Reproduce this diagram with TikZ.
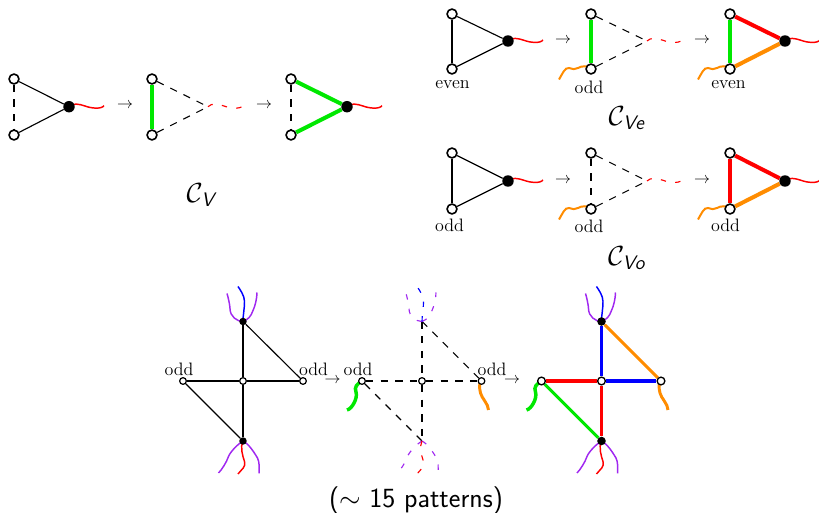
\documentclass[tikz,border=0pt]{standalone}
\usepackage{amsmath}
\usetikzlibrary{backgrounds}
\definecolor{cgreen}{RGB}{0,232,0}
\definecolor{corange}{RGB}{255,140,0}
\definecolor{cpurple}{RGB}{160,40,240}
\definecolor{cblue}{RGB}{0,0,255}
\definecolor{cred}{RGB}{255,0,0}
\tikzset{
  wnode/.style={circle,draw=black,fill=white,line width=1.2pt,inner sep=0pt,minimum size=7.4pt},
  bnode/.style={circle,fill=black,inner sep=0pt,minimum size=8.6pt},
  wsmall/.style={circle,draw=black,fill=white,line width=.9pt,inner sep=0pt,minimum size=5pt},
  wmid/.style={circle,draw=black,fill=white,line width=1pt,inner sep=0pt,minimum size=5.8pt},
  bsmall/.style={circle,fill=black,inner sep=0pt,minimum size=5.6pt},
  ghost/.style={inner sep=0pt,minimum size=0pt},
  solidedge/.style={draw=black,line width=.85pt},
  dashedge/.style={draw=black,line width=.8pt,dash pattern=on 5.5pt off 5.5pt},
  thickedge/.style={line width=#1},
  thickedge/.default=2.6pt,
  thintail/.style={line width=1.1pt},
  dashtail/.style={line width=.85pt,dash pattern=on 4pt off 7pt},
  lab/.style={font=\fontsize{13.5}{15}\selectfont,inner sep=0pt},
  arr/.style={font=\fontsize{11.5}{13}\selectfont,inner sep=0pt},
  captext/.style={font=\fontsize{21}{24}\selectfont,inner sep=0pt},
}
\newcommand{\rtail}[2]{\draw[cred,#2] (#1.center) .. controls +(4,-4) and +(-6,-2) .. ++(16,-.7) .. controls +(5,2) and +(-3,4) .. ++(19,-.3);}
\newcommand{\otail}[1]{\draw[corange,line width=1.5pt] (#1.center) .. controls +(-2,-4) and +(3,-2) .. ++(-13,-1) .. controls +(-3,2) and +(4,1) .. ++(-9,0) .. controls +(-4,-1) and +(3,-5) .. ++(-10,11.5);}
\newcommand{\gtail}[1]{\draw[cgreen,line width=2.6pt] (#1.center) .. controls +(-5,3) and +(-2,-5) .. ++(-6,11) .. controls +(2,6) and +(5,-1) .. ++(-9,18);}
\newcommand{\ytail}[1]{\draw[corange,line width=2.2pt] (#1.center) .. controls +(-3,3) and +(-1,-5) .. ++(-1,12) .. controls +(1,5) and +(0,-6) .. ++(8,17);}
\newcommand{\toptails}[2]{%
  \draw[cpurple,#2] (#1.center) .. controls +(-6,0) and +(0,8) .. ++(-13,-13) .. controls +(0,-3) and +(1,3) .. ++(-3,-15);
  \draw[cpurple,#2] (#1.center) .. controls +(5,-2) and +(-2,6) .. ++(10,-11) .. controls +(2,-4) and +(0,6) .. ++(4,-18);
  \draw[cblue,#2] (#1.center) .. controls +(0,-7) and +(0,8) .. ++(1.5,-20) .. controls +(0,-6) and +(2,3) .. ++(-6.5,-15);
}
\newcommand{\bottails}[2]{%
  \draw[cpurple,#2] (#1.center) .. controls +(-5,3) and +(2,-5) .. ++(-14.5,15.5) .. controls +(-2,6) and +(3,-3) .. ++(-10,16.5);
  \draw[cpurple,#2] (#1.center) .. controls +(6,3) and +(-3,-5) .. ++(14.5,17) .. controls +(2,4) and +(0,-6) .. ++(1.7,15.3);
  \draw[cred,#2] (#1.center) .. controls +(-3,6) and +(-2,-6) .. ++(1.5,20.5) .. controls +(2,5) and +(3,-4) .. ++(-6.5,12.5);
}
\begin{document}
\begin{tikzpicture}[x=0.75pt,y=-0.75pt]
\useasboundingbox (0,0) rectangle (819,513);
% ---- C_V
\node[wnode] (a1t) at (14,79) {};
\node[wnode] (a1b) at (14,135) {};
\node[bnode] (a1r) at (69,106.7) {};
\node[wnode] (a2t) at (152,79) {};
\node[wnode] (a2b) at (152,135) {};
\node[ghost] (a2r) at (208,106.7) {};
\node[wnode] (a3t) at (291,79) {};
\node[wnode] (a3b) at (291,135) {};
\node[bnode] (a3r) at (347,106.7) {};
\node[arr] (aa1) at (125,106) {$\rightarrow$};
\node[arr] (aa2) at (264,106) {$\rightarrow$};
\node[captext] (capa) at (202,195) {$\mathcal{C}_{\textsf{\textit{V}}}$};
% ---- C_Ve
\node[wnode] (b1t) at (452,14) {};
\node[wnode] (b1b) at (452,69) {};
\node[bnode] (b1r) at (508,41) {};
\node[wnode] (b2t) at (591,14) {};
\node[wnode] (b2b) at (591,69) {};
\node[ghost] (b2r) at (647,41) {};
\node[wnode] (b3t) at (730,14) {};
\node[wnode] (b3b) at (730,69) {};
\node[bnode] (b3r) at (785,41) {};
\node[arr] (ba1) at (563,40.5) {$\rightarrow$};
\node[arr] (ba2) at (702,40.5) {$\rightarrow$};
\node[lab] (bl1) at (452.5,85) {even};
\node[lab] (bl2) at (589,87) {odd};
\node[lab] (bl3) at (728.5,85) {even};
\node[captext] (capb) at (627,118) {$\mathcal{C}_{\textsf{\textit{Ve}}}$};
% ---- C_Vo
\node[wnode] (c1t) at (452,153) {};
\node[wnode] (c1b) at (452,209) {};
\node[bnode] (c1r) at (508,181) {};
\node[wnode] (c2t) at (591,153) {};
\node[wnode] (c2b) at (591,209) {};
\node[ghost] (c2r) at (647,181) {};
\node[wnode] (c3t) at (730,153) {};
\node[wnode] (c3b) at (730,209) {};
\node[bnode] (c3r) at (785,181) {};
\node[arr] (ca1) at (563,180.5) {$\rightarrow$};
\node[arr] (ca2) at (702,180.5) {$\rightarrow$};
\node[lab] (cl1) at (449.5,225) {odd};
\node[lab] (cl2) at (589,226) {odd};
\node[lab] (cl3) at (725.5,225) {odd};
\node[captext] (capc) at (627,258) {$\mathcal{C}_{\textsf{\textit{Vo}}}$};
% ---- bottom row
\node[bsmall] (d1t) at (243,321.5) {};
\node[wsmall] (d1l) at (183,381) {};
\node[wsmall] (d1c) at (243,381) {};
\node[wsmall] (d1r) at (303,381) {};
\node[bsmall] (d1b) at (243,441) {};
\node[ghost] (d2t) at (422,321.5) {};
\node[wsmall] (d2l) at (362,381) {};
\node[wsmall] (d2c) at (422,381) {};
\node[wsmall] (d2r) at (481.5,381) {};
\node[ghost] (d2b) at (422,441) {};
\node[bnode,minimum size=6.4pt] (d3t) at (601.5,321.5) {};
\node[wmid] (d3l) at (541.5,381) {};
\node[wmid] (d3c) at (601.5,381) {};
\node[wmid] (d3r) at (661,381) {};
\node[bnode,minimum size=6.4pt] (d3b) at (601.5,441) {};
\node[lab] (dl1) at (179,369) {odd};
\node[lab] (dl2) at (313.5,369) {odd};
\node[lab] (dl3) at (358,369.5) {odd};
\node[lab] (dl4) at (492,369.5) {odd};
\node[arr] (da1) at (332.5,380.5) {$\rightarrow$};
\node[arr] (da2) at (512,380.5) {$\rightarrow$};
\node[font=\fontsize{20.8}{24}\selectfont\sffamily,inner sep=0pt] (capd) at (416,501) {($\sim$ 15 patterns)};
\begin{scope}[on background layer]
% C_V
\draw[dashedge] (a1t) -- (a1b);
\draw[solidedge] (a1t) -- (a1r);
\draw[solidedge] (a1b) -- (a1r);
\rtail{a1r}{thintail}
\draw[cgreen,thickedge] (a2t) -- (a2b);
\draw[dashedge] (a2t) -- (a2r.center);
\draw[dashedge] (a2b) -- (a2r.center);
\rtail{a2r}{dashtail}
\draw[dashedge] (a3t) -- (a3b);
\draw[cgreen,thickedge=3pt] (a3t) -- (a3r);
\draw[cgreen,thickedge=3pt] (a3b) -- (a3r);
\rtail{a3r}{thintail}
% C_Ve
\draw[solidedge] (b1t) -- (b1b);
\draw[solidedge] (b1t) -- (b1r);
\draw[solidedge] (b1b) -- (b1r);
\rtail{b1r}{thintail}
\draw[cgreen,thickedge=2.4pt] (b2t) -- (b2b);
\draw[dashedge] (b2t) -- (b2r.center);
\draw[dashedge] (b2b) -- (b2r.center);
\rtail{b2r}{dashtail}
\otail{b2b}
\draw[cgreen,thickedge=2.4pt] (b3t) -- (b3b);
\draw[cred,thickedge=3pt] (b3t) -- (b3r);
\draw[corange,thickedge=3pt] (b3b) -- (b3r);
\rtail{b3r}{thintail}
\otail{b3b}
% C_Vo
\draw[solidedge] (c1t) -- (c1b);
\draw[solidedge] (c1t) -- (c1r);
\draw[solidedge] (c1b) -- (c1r);
\rtail{c1r}{thintail}
\draw[dashedge] (c2t) -- (c2b);
\draw[dashedge] (c2t) -- (c2r.center);
\draw[dashedge] (c2b) -- (c2r.center);
\rtail{c2r}{dashtail}
\otail{c2b}
\draw[cred,thickedge] (c3t) -- (c3b);
\draw[cred,thickedge=3pt] (c3t) -- (c3r);
\draw[corange,thickedge=3pt] (c3b) -- (c3r);
\rtail{c3r}{thintail}
\otail{c3b}
% bottom 1
\draw[solidedge] (d1t) -- (d1c);
\draw[solidedge] (d1c) -- (d1b);
\draw[solidedge] (d1l) -- (d1c);
\draw[solidedge] (d1c) -- (d1r);
\draw[solidedge] (d1t) -- (d1r);
\draw[solidedge] (d1l) -- (d1b);
\toptails{d1t}{thintail}
\bottails{d1b}{thintail}
% bottom 2
\draw[dashedge] (d2t.center) -- (d2c);
\draw[dashedge] (d2c) -- (d2b.center);
\draw[dashedge] (d2l) -- (d2c);
\draw[dashedge] (d2c) -- (d2r);
\draw[dashedge] (d2t.center) -- (d2r);
\draw[dashedge] (d2l) -- (d2b.center);
\toptails{d2t}{dashtail}
\bottails{d2b}{dashtail}
\gtail{d2l}
\ytail{d2r}
% bottom 3
\draw[cblue,thickedge] (d3t) -- (d3c);
\draw[cred,thickedge] (d3c) -- (d3b);
\draw[cred,thickedge] (d3l) -- (d3c);
\draw[cblue,thickedge] (d3c) -- (d3r);
\draw[corange,thickedge=2.3pt] (d3t) -- (d3r);
\draw[cgreen,thickedge=2.3pt] (d3l) -- (d3b);
\toptails{d3t}{thintail}
\bottails{d3b}{thintail}
\gtail{d3l}
\ytail{d3r}
\end{scope}
\end{tikzpicture}
\end{document}
